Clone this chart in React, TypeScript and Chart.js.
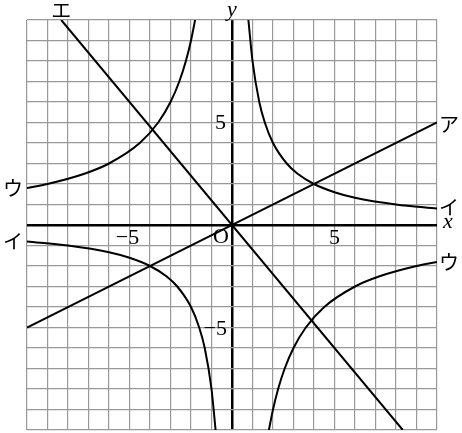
import React, { useEffect, useRef } from 'react';
import { Chart, registerables, Plugin } from 'chart.js';

Chart.register(...registerables);

// points, [x, y]
const lineA = [[-10, -5], [10, 5]];
const lineE = [[-8.33, 10], [8.33, -10]];
const curveIRight = [[0.8, 10], [1, 8], [1.33, 6], [1.6, 5], [2, 4], [2.67, 3], [3.2, 2.5], [4, 2], [5, 1.6], [6, 1.33], [8, 1], [10, 0.8]];
const curveILeft = [[-10, -0.8], [-8, -1], [-6, -1.33], [-5, -1.6], [-4, -2], [-3.2, -2.5], [-2.67, -3], [-2, -4], [-1.6, -5], [-1.33, -6], [-1, -8], [-0.8, -10]];
const curveULeft = [[-10, 1.8], [-9, 2], [-7.2, 2.5], [-6, 3], [-4.5, 4], [-3.6, 5], [-3, 6], [-2.57, 7], [-2.25, 8], [-2, 9], [-1.8, 10]];
const curveURight = [[1.8, -10], [2, -9], [2.25, -8], [2.57, -7], [3, -6], [3.6, -5], [4.5, -4], [6, -3], [7.2, -2.5], [9, -2], [10, -1.8]];

const axisMin = -10;
const axisMax = 10;

// text labels: [text, x, y, dx, dy, align, font]
const kana = '20px "Noto Sans CJK JP"';
const serif = '22px "Liberation Serif"';
const italic = 'italic 22px "Liberation Serif"';
const labels: [string, number, number, number, number, CanvasTextAlign, string][] = [
    ['ア', 10, 5, 12, 2, 'center', kana],
    ['イ', 10, 0.8, 12, -1, 'center', kana],
    ['ウ', 10, -1.8, 12, 1, 'center', kana],
    ['ウ', -10, 1.8, -14, 0, 'center', kana],
    ['イ', -10, -0.8, -14, 0, 'center', kana],
    ['エ', -8.33, 10, 0, -10, 'center', kana],
    ['x', 10, 0, 11, -3, 'center', italic],
    ['y', 0, 10, 0, -10, 'center', italic],
    ['O', 0, 0, -11, 12, 'center', serif],
    ['5', 5, 0, 0, 13, 'center', serif],
    ['−5', -5, 0, -2, 13, 'center', serif],
    ['5', 0, 5, -6, 1, 'right', serif],
    ['−5', 0, -5, -5, 2, 'right', serif],
];

const toXY = (pts: number[][]) => pts.map(([x, y]) => ({ x, y }));

const labelPlugin: Plugin<'line'> = {
    id: 'graphLabels',
    afterDraw(chart) {
        const { ctx, scales } = chart;
        ctx.save();
        ctx.fillStyle = '#000';
        ctx.textBaseline = 'middle';
        labels.forEach(([text, x, y, dx, dy, align, font]) => {
            ctx.font = font;
            ctx.textAlign = align;
            ctx.fillText(text, scales.x.getPixelForValue(x) + dx, scales.y.getPixelForValue(y) + dy);
        });
        ctx.restore();
    },
};

const GraphChart: React.FC = () => {
    const ref = useRef<HTMLCanvasElement>(null);
    const chartRef = useRef<Chart<'line'> | null>(null);

    useEffect(() => {
        if (!ref.current) return;

        const curve = (pts: number[][], smooth: boolean) => ({
            data: toXY(pts),
            borderColor: '#000',
            borderWidth: 2,
            pointRadius: 0,
            fill: false,
            cubicInterpolationMode: smooth ? ('monotone' as const) : ('default' as const),
        });

        const gridColor = (c: any) => (c.tick && c.tick.value === 0 ? '#000' : '#999');
        const gridWidth = (c: any) => (c.tick && c.tick.value === 0 ? 2.5 : 1.2);

        if (chartRef.current) {
            chartRef.current.destroy();
        }

        chartRef.current = new Chart(ref.current, {
            type: 'line',
            data: {
                datasets: [
                    curve(lineA, false),
                    curve(lineE, false),
                    curve(curveIRight, true),
                    curve(curveILeft, true),
                    curve(curveULeft, true),
                    curve(curveURight, true),
                ],
            },
            options: {
                animation: false,
                responsive: true,
                maintainAspectRatio: false,
                layout: { padding: { left: 27, right: 25, top: 20, bottom: 3 } },
                plugins: { legend: { display: false }, tooltip: { enabled: false } },
                scales: {
                    x: {
                        type: 'linear',
                        min: axisMin,
                        max: axisMax,
                        ticks: { display: false, stepSize: 1 },
                        grid: { color: gridColor, lineWidth: gridWidth, drawTicks: false },
                        border: { display: false },
                    },
                    y: {
                        type: 'linear',
                        min: axisMin,
                        max: axisMax,
                        ticks: { display: false, stepSize: 1 },
                        grid: { color: gridColor, lineWidth: gridWidth, drawTicks: false },
                        border: { display: false },
                    },
                },
            },
            plugins: [labelPlugin],
        });

        return () => {
            if (chartRef.current) {
                chartRef.current.destroy();
                chartRef.current = null;
            }
        };
    }, []);

    return (
        <div style={{ position: 'absolute', left: 0, top: 0, width: 462, height: 433, background: '#fff' }}>
            <canvas ref={ref}></canvas>
        </div>
    );
};

export default function App() {
    return <GraphChart />;
}
